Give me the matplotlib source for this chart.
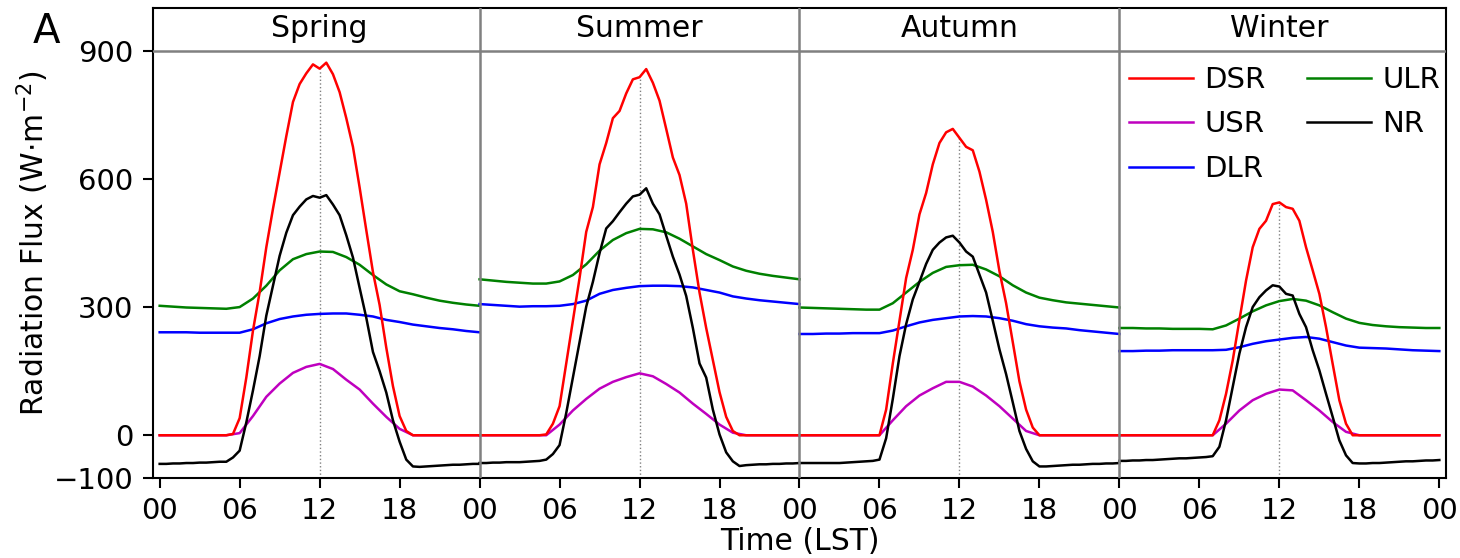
import numpy as np
import matplotlib.pyplot as plt

plt.rcParams['font.family'] = 'DejaVu Sans'

hours = np.arange(0, 25, 1.0)
half_hours = np.arange(0, 24.5, 0.5)

seasons = ["Spring", "Summer", "Autumn", "Winter"]
tick_labels = ["00", "06", "12", "18"] * 4 + ["00"]

# downward shortwave (half-hourly)
dsr_spring = [0, 0, 0, 0, 0, 0, 0, 0, 0, 0, 0,
              3, 40, 135, 245, 335, 440, 530, 615, 700, 780,
              822, 847, 868, 858, 872, 845, 803, 742, 675, 580,
              480, 382, 305, 205, 115, 45, 10,
              0, 0, 0, 0, 0, 0, 0, 0, 0, 0, 0]
dsr_summer = [0, 0, 0, 0, 0, 0, 0, 0, 0, 0,
              2, 27, 68, 168, 268, 368, 476, 534, 634, 684,
              742, 759, 800, 833, 838, 857, 825, 783, 717, 650,
              609, 542, 434, 334, 251, 176, 101, 43, 10,
              0, 0, 0, 0, 0, 0, 0, 0, 0, 0]
dsr_autumn = [0, 0, 0, 0, 0, 0, 0, 0, 0, 0, 0, 0, 0,
              60, 168, 268, 368, 434, 517, 567, 634, 684, 709,
              717, 696, 675, 667, 617, 551, 476, 384, 309, 218,
              126, 60, 18,
              0, 0, 0, 0, 0, 0, 0, 0, 0, 0, 0, 0, 0]
dsr_winter = [0, 0, 0, 0, 0, 0, 0, 0, 0, 0, 0, 0, 0, 0, 0,
              35, 97, 175, 269, 362, 440, 483, 502, 541, 545,
              534, 530, 502, 440, 386, 331, 253, 167, 82, 27,
              0, 0, 0, 0, 0, 0, 0, 0, 0, 0, 0, 0, 0, 0]

# upward shortwave (hourly)
usr_spring = [0, 0, 0, 0, 0, 0, 5, 45, 90, 121, 146, 160, 167, 155, 130, 107, 74, 43, 15, 0, 0, 0, 0, 0, 0]
usr_summer = [0, 0, 0, 0, 0, 0, 25, 58, 85, 109, 125, 136, 145, 138, 120, 100, 74, 50, 25, 6, 0, 0, 0, 0, 0]
usr_autumn = [0, 0, 0, 0, 0, 0, 0, 35, 68, 93, 110, 125, 125, 114, 93, 68, 39, 10, 0, 0, 0, 0, 0, 0, 0]
usr_winter = [0, 0, 0, 0, 0, 0, 0, 0, 27, 58, 82, 97, 107, 105, 82, 58, 31, 8, 0, 0, 0, 0, 0, 0, 0]

# downward longwave (hourly)
dlr_spring = [241, 241, 241, 240, 240, 240, 240, 248, 262, 272, 278, 282, 284, 285, 285, 282, 278, 270, 265, 259, 255, 251, 248, 244, 241]
dlr_summer = [307, 305, 303, 301, 302, 302, 303, 307, 315, 331, 340, 345, 349, 350, 350, 349, 346, 340, 334, 325, 320, 316, 313, 310, 307]
dlr_autumn = [237, 237, 238, 238, 239, 239, 239, 245, 255, 264, 270, 274, 278, 279, 278, 274, 268, 260, 255, 252, 250, 246, 243, 240, 237]
dlr_winter = [197, 197, 198, 198, 199, 199, 199, 199, 200, 206, 214, 220, 224, 228, 230, 226, 218, 210, 205, 204, 203, 201, 199, 198, 197]

# upward longwave (hourly)
ulr_spring = [303, 301, 299, 298, 297, 296, 300, 320, 350, 386, 412, 424, 430, 429, 417, 399, 375, 353, 337, 330, 322, 315, 310, 306, 303]
ulr_summer = [365, 362, 359, 357, 355, 355, 360, 375, 400, 432, 457, 473, 483, 482, 475, 460, 442, 424, 410, 395, 385, 378, 373, 369, 365]
ulr_autumn = [299, 298, 297, 296, 295, 294, 294, 309, 334, 359, 380, 394, 398, 399, 388, 372, 351, 334, 322, 316, 311, 308, 305, 302, 299]
ulr_winter = [251, 251, 250, 250, 249, 249, 249, 248, 257, 273, 290, 304, 314, 319, 315, 304, 288, 273, 263, 258, 255, 253, 252, 251, 251]

# net radiation (half-hourly)
nr_spring = [-67, -67, -66, -66, -65, -65, -64, -64, -63, -62, -62,
             -52, -36, 30, 105, 185, 280, 350, 420, 474, 515,
             535, 552, 560, 556, 562, 540, 515, 468, 416, 345,
             275, 195, 150, 100, 35, -15, -57,
             -73, -74, -73, -72, -71, -70, -69, -69, -68, -67, -67]
nr_summer = [-65, -65, -64, -64, -63, -63, -63, -62, -61, -60,
             -57, -44, -23, 52, 135, 218, 301, 359, 426, 484,
             501, 522, 542, 559, 563, 578, 542, 517, 467, 418,
             376, 326, 251, 168, 135, 60, 2, -40, -61,
             -72, -70, -69, -68, -68, -67, -67, -66, -66, -65]
nr_autumn = [-65, -65, -65, -65, -65, -65, -65, -64, -63, -62, -61, -60, -57,
             -7, 85, 185, 260, 318, 359, 401, 434, 451, 463,
             467, 451, 430, 418, 376, 334, 268, 201, 143, 77,
             10, -32, -61,
             -73, -73, -72, -71, -70, -69, -69, -68, -67, -67, -66, -66, -65]
nr_winter = [-60, -60, -59, -59, -58, -58, -57, -56, -55, -54, -54, -53, -52, -51, -49,
             -27, 35, 113, 191, 253, 300, 323, 339, 351, 348,
             331, 327, 284, 253, 199, 152, 97, 43, -12, -47,
             -65, -66, -66, -65, -65, -64, -63, -62, -61, -61, -60, -59, -59, -58]

dsr = dict(zip(seasons, [dsr_spring, dsr_summer, dsr_autumn, dsr_winter]))
usr = dict(zip(seasons, [usr_spring, usr_summer, usr_autumn, usr_winter]))
dlr = dict(zip(seasons, [dlr_spring, dlr_summer, dlr_autumn, dlr_winter]))
ulr = dict(zip(seasons, [ulr_spring, ulr_summer, ulr_autumn, ulr_winter]))
nr = dict(zip(seasons, [nr_spring, nr_summer, nr_autumn, nr_winter]))

series = [("DSR", "r", half_hours, dsr, 6),
          ("USR", "m", hours, usr, 3),
          ("DLR", "b", hours, dlr, 3),
          ("ULR", "g", hours, ulr, 3),
          ("NR", "k", half_hours, nr, 4)]

fs = 21
fig = plt.figure(figsize=(14.6, 5.58), dpi=100)
ax = fig.add_axes([0.1048, 0.1434, 0.8856, 0.8423])

handles = []
for k, s in enumerate(seasons):
    off = 24 * k
    for name, color, t, data, z in series:
        line, = ax.plot(t + off, data[s], color=color, lw=1.8, zorder=z)
        if k == 0:
            line.set_label(name)
            handles.append(line)
    # dotted noon marker, up to the noon DSR value
    ax.vlines(12 + off, -100, dsr[s][24], colors="gray",
              linestyles=":", lw=1, zorder=2)
    ax.text(12 + off, 951, s, ha="center", va="center", fontsize=21.5)

for x in [24, 48, 72]:
    ax.axvline(x, color="gray", lw=1.8, zorder=7)
ax.axhline(900, color="gray", lw=1.8, zorder=7)

ax.set_xlim(-0.5, 96.5)
ax.set_ylim(-100, 1000)
ax.set_xticks(np.arange(0, 97, 6))
ax.set_xticklabels(tick_labels)
ax.set_yticks([-100, 0, 300, 600, 900])
ax.tick_params(labelsize=fs, length=7, width=1.5, pad=7)
for sp in ax.spines.values():
    sp.set_linewidth(1.5)

ax.set_xlabel("Time (LST)", fontsize=21.5, labelpad=1)
ax.set_ylabel(r"Radiation Flux (W$\cdot$m$^{-2}$)", fontsize=21.5, labelpad=2)

ax.legend(handles=handles, ncol=2, loc="upper right", bbox_to_anchor=(1.0, 0.8895),
          frameon=False, fontsize=fs, handlelength=2.2, handletextpad=0.4,
          columnspacing=1.4, labelspacing=0.57, borderpad=0.2, borderaxespad=0)

fig.text(0.0315, 0.943, "A", fontsize=29, ha="center", va="center")

fig.savefig("out.png", dpi=100)
